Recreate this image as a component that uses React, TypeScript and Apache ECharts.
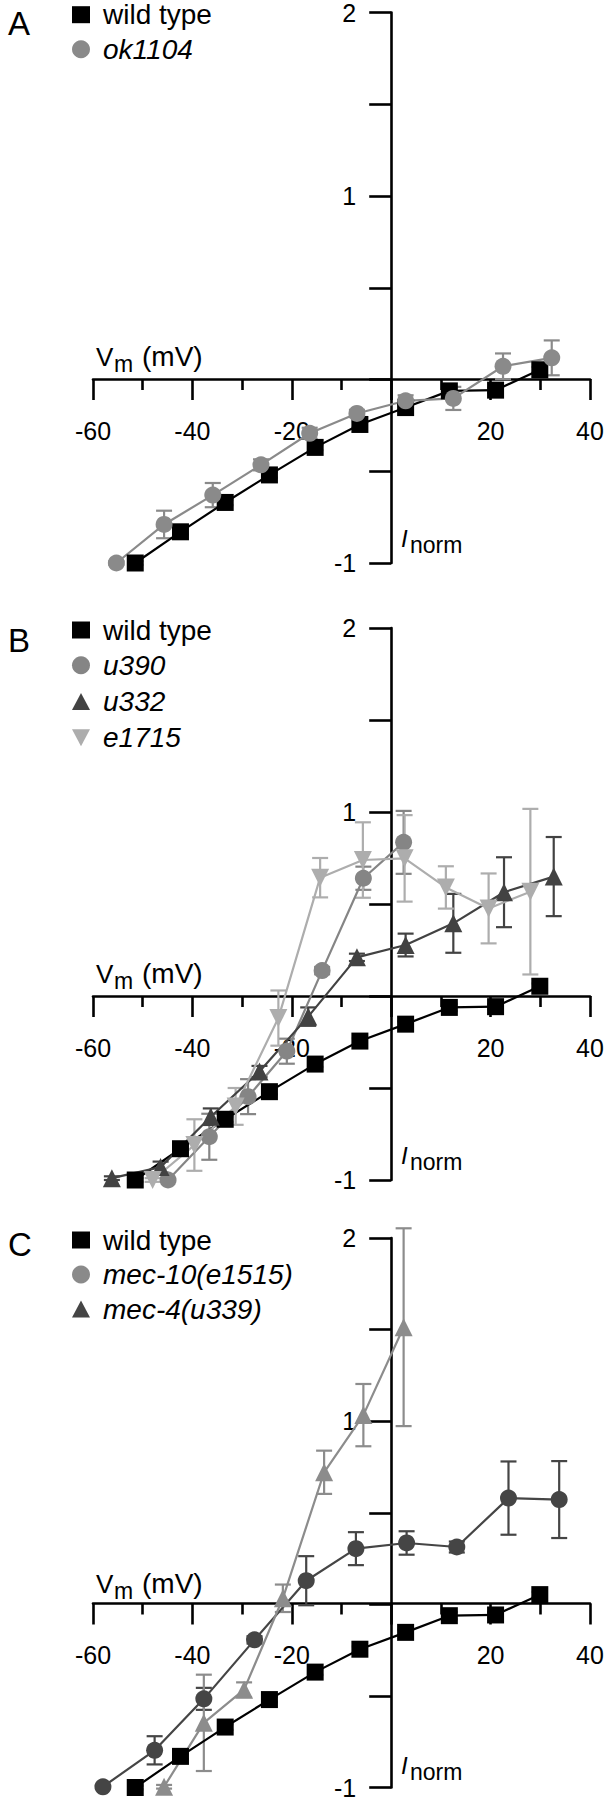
import React, { useEffect, useRef } from "react";
import * as echarts from "echarts";

// ---------- data (membrane potential mV, normalized current) ----------
const wtV = [-51.5, -42.4, -33.4, -24.5, -15.3, -6.3, 2.9, 11.7, 21.0, 29.9];
const wtI = [-1.0, -0.83, -0.67, -0.52, -0.37, -0.245, -0.153, -0.062, -0.058, 0.053];
const wtErr = [0.01, 0.015, 0.015, 0.015, 0.015, 0.015, 0.015, 0.02, 0.015, 0.015];

const okV = [-55.3, -45.7, -35.9, -26.2, -16.4, -6.9, 2.9, 12.5, 22.5, 32.3];
const okI = [-1.0, -0.79, -0.63, -0.465, -0.293, -0.185, -0.116, -0.103, 0.072, 0.118];
const okErr = [0.01, 0.075, 0.066, 0.03, 0.03, 0.02, 0.03, 0.063, 0.07, 0.095];

const u390V = [-44.9, -36.6, -28.8, -21.0, -13.9, -5.6, 2.5];
const u390I = [-1.0, -0.765, -0.547, -0.3, 0.138, 0.64, 0.835];
const u390Err = [0.01, 0.125, 0.095, 0.068, 0.02, 0.063, 0.171];

const u332V = [-56.2, -46.4, -36.3, -26.5, -16.7, -6.9, 2.9, 12.5, 22.7, 32.7];
const u332I = [-0.99, -0.93, -0.656, -0.41, -0.112, 0.21, 0.277, 0.395, 0.564, 0.649];
const u332Err = [0.01, 0.03, 0.045, 0.03, 0.05, 0.02, 0.062, 0.16, 0.19, 0.215];

const e1715V = [-48.0, -39.6, -31.3, -22.7, -14.3, -5.7, 2.7, 11.0, 19.6, 28.0];
const e1715I = [-1.0, -0.81, -0.6, -0.12, 0.643, 0.739, 0.748, 0.59, 0.476, 0.567];
const e1715Err = [0.01, 0.14, 0.1, 0.15, 0.107, 0.205, 0.235, 0.115, 0.19, 0.45];

const mec10V = [-58.0, -47.6, -37.7, -27.5, -17.1, -7.1, 3.1, 13.2, 23.6, 33.8];
const mec10I = [-0.996, -0.797, -0.516, -0.194, 0.129, 0.304, 0.335, 0.313, 0.58, 0.572];
const mec10Err = [0.01, 0.077, 0.06, 0.02, 0.134, 0.09, 0.064, 0.03, 0.2, 0.21];

const mec4V = [-45.7, -37.7, -29.6, -21.8, -13.5, -5.6, 2.5];
const mec4I = [-0.996, -0.647, -0.466, 0.033, 0.721, 1.033, 1.513];
const mec4Err = [0.01, 0.263, 0.04, 0.075, 0.118, 0.17, 0.54];

const xTickLabels = ["-60", "-40", "-20", "20", "40"];
const yTickLabels = ["2", "1", "-1"];

const FONT = "'Liberation Sans', Arial, Helvetica, sans-serif";
const BLACK = "#000000";

type Entry = {
  name: string;
  V: number[];
  I: number[];
  E: number[];
  color: string;
  symbol: string;
  rotate?: number;
  legendColor: string;
  italic: boolean;
};

const panels: {
  letter: string;
  top: number;
  letterY: number;
  legendY: number[];
  entries: Entry[];
}[] = [
  {
    letter: "A",
    top: 11,
    letterY: 24,
    legendY: [14.7, 49.2],
    entries: [
      { name: "wild type", V: wtV, I: wtI, E: wtErr, color: BLACK, symbol: "rect", legendColor: BLACK, italic: false },
      { name: "ok1104", V: okV, I: okI, E: okErr, color: "#8a8a8a", symbol: "circle", legendColor: "#8a8a8a", italic: true },
    ],
  },
  {
    letter: "B",
    top: 628,
    letterY: 640.8,
    legendY: [630, 665.3, 701.5, 737.3],
    entries: [
      { name: "wild type", V: wtV, I: wtI, E: wtErr, color: BLACK, symbol: "rect", legendColor: BLACK, italic: false },
      { name: "u390", V: u390V, I: u390I, E: u390Err, color: "#858585", symbol: "circle", legendColor: "#858585", italic: true },
      { name: "u332", V: u332V, I: u332I, E: u332Err, color: "#424242", symbol: "triangle", legendColor: "#424242", italic: true },
      { name: "e1715", V: e1715V, I: e1715I, E: e1715Err, color: "#adadad", symbol: "triangle", rotate: 180, legendColor: "#adadad", italic: true },
    ],
  },
  {
    letter: "C",
    top: 1238,
    letterY: 1245,
    legendY: [1240, 1274.5, 1309],
    entries: [
      { name: "wild type", V: wtV, I: wtI, E: wtErr, color: BLACK, symbol: "rect", legendColor: BLACK, italic: false },
      { name: "mec-10(e1515)", V: mec10V, I: mec10I, E: mec10Err, color: "#454545", symbol: "circle", legendColor: "#8a8a8a", italic: true },
      { name: "mec-4(u339)", V: mec4V, I: mec4I, E: mec4Err, color: "#8c8c8c", symbol: "triangle", legendColor: "#454545", italic: true },
    ],
  },
];

const WIDTH = 609;
const GRID_LEFT = 93;
const GRID_RIGHT = 19;
const GRID_H = 552;
const X_MIN = -60;
const X_MAX = 40;
const Y_MIN = -1;
const Y_MAX = 2;
// offsets that put each axis on the other's zero
const Y_AXIS_OFFSET = -((0 - X_MIN) / (X_MAX - X_MIN)) * (WIDTH - GRID_LEFT - GRID_RIGHT);
const X_AXIS_OFFSET = -((0 - Y_MIN) / (Y_MAX - Y_MIN)) * GRID_H;

function errSeries(idx: number, e: Entry) {
  return {
    type: "custom",
    xAxisIndex: idx,
    yAxisIndex: idx,
    clip: false,
    silent: true,
    z: 1,
    encode: { x: 0, y: 1 },
    data: e.V.map((v, k) => [v, e.I[k], e.E[k]]),
    renderItem: (_p: any, api: any) => {
      const x = api.value(0);
      const y = api.value(1);
      const er = api.value(2);
      const t = api.coord([x, y + er]);
      const b = api.coord([x, y - er]);
      const w = 8;
      const st = { stroke: e.color, lineWidth: 2.2 };
      return {
        type: "group",
        children: [
          { type: "line", shape: { x1: t[0], y1: t[1], x2: b[0], y2: b[1] }, style: st },
          { type: "line", shape: { x1: t[0] - w, y1: t[1], x2: t[0] + w, y2: t[1] }, style: st },
          { type: "line", shape: { x1: b[0] - w, y1: b[1], x2: b[0] + w, y2: b[1] }, style: st },
        ],
      };
    },
  };
}

function lineSeries(idx: number, e: Entry) {
  return {
    type: "line",
    name: e.name,
    xAxisIndex: idx,
    yAxisIndex: idx,
    data: e.V.map((v, k) => [v, e.I[k]]),
    symbol: e.symbol,
    symbolRotate: e.rotate || 0,
    symbolSize: e.symbol === "triangle" ? 18 : 17,
    showAllSymbol: true,
    clip: false,
    z: 2,
    lineStyle: { color: e.color, width: 2.2 },
    itemStyle: { color: e.color },
  };
}

function legendMarker(e: Entry, cx: number, cy: number) {
  const fill = { fill: e.legendColor };
  if (e.symbol === "rect") {
    return { type: "rect", shape: { x: cx - 9, y: cy - 8.5, width: 18, height: 17 }, style: fill };
  }
  if (e.symbol === "circle") {
    return { type: "circle", shape: { cx, cy, r: 9 }, style: fill };
  }
  if (e.rotate === 180) {
    return {
      type: "polygon",
      shape: { points: [[cx - 9, cy - 8], [cx + 9, cy - 8], [cx, cy + 9]] },
      style: fill,
    };
  }
  return {
    type: "polygon",
    shape: { points: [[cx - 9, cy + 8.5], [cx + 9, cy + 8.5], [cx, cy - 8.5]] },
    style: fill,
  };
}

export default function App() {
  const ref = useRef<HTMLDivElement>(null);

  useEffect(() => {
    document.body.style.margin = "0";
    if (!ref.current) return;
    const chart = echarts.init(ref.current, undefined, { renderer: "svg" });

    const grid: any[] = [];
    const xAxis: any[] = [];
    const yAxis: any[] = [];
    const series: any[] = [];
    const graphic: any[] = [];
    const axisLineStyle = { color: BLACK, width: 2.6 };

    panels.forEach((p, i) => {
      grid.push({ left: GRID_LEFT, right: GRID_RIGHT, top: p.top, height: GRID_H });
      xAxis.push({
        type: "value",
        gridIndex: i,
        position: "bottom",
        offset: X_AXIS_OFFSET,
        min: X_MIN,
        max: X_MAX,
        interval: 20,
        axisLine: { show: true, onZero: false, lineStyle: axisLineStyle },
        axisTick: { show: true, length: 21, lineStyle: axisLineStyle },
        minorTick: { show: true, splitNumber: 2, length: 11, lineStyle: axisLineStyle },
        splitLine: { show: false },
        minorSplitLine: { show: false },
        axisLabel: {
          show: true,
          showMinLabel: true,
          showMaxLabel: true,
          margin: 39,
          fontSize: 25,
          fontFamily: FONT,
          color: BLACK,
          formatter: (v: number) => (xTickLabels.includes(String(v)) ? String(v) : ""),
        },
      });
      yAxis.push({
        type: "value",
        gridIndex: i,
        position: "left",
        offset: Y_AXIS_OFFSET,
        min: Y_MIN,
        max: Y_MAX,
        interval: 0.5,
        axisLine: { show: true, onZero: false, lineStyle: axisLineStyle },
        axisTick: { show: true, length: 22, lineStyle: axisLineStyle },
        splitLine: { show: false },
        axisLabel: {
          show: true,
          showMinLabel: true,
          showMaxLabel: true,
          margin: 35,
          fontSize: 25,
          fontFamily: FONT,
          color: BLACK,
          formatter: (v: number) => (yTickLabels.includes(String(v)) ? String(v) : ""),
        },
      });

      p.entries.forEach((e) => series.push(errSeries(i, e)));
      p.entries.forEach((e) => series.push(lineSeries(i, e)));

      const zeroY = p.top + (GRID_H * 2) / 3;
      const minusOneY = p.top + GRID_H;

      // panel letter
      graphic.push({
        type: "text",
        left: 8,
        top: p.letterY - 17,
        style: { text: p.letter, font: `33px ${FONT}`, fill: BLACK },
      });
      // legend
      p.entries.forEach((e, k) => {
        const cy = p.legendY[k];
        graphic.push(legendMarker(e, 81, cy));
        graphic.push({
          type: "text",
          x: 103,
          y: cy,
          style: {
            text: e.name,
            font: `${e.italic ? "italic " : ""}28px ${FONT}`,
            fill: BLACK,
            textVerticalAlign: "middle",
            textAlign: "left",
          },
        });
      });
      // Vm (mV)
      graphic.push({
        type: "text",
        x: 96,
        y: zeroY - 22.5,
        style: { text: "V", font: `26px ${FONT}`, fill: BLACK, textVerticalAlign: "middle" },
      });
      graphic.push({
        type: "text",
        x: 114,
        y: zeroY - 15,
        style: { text: "m", font: `23px ${FONT}`, fill: BLACK, textVerticalAlign: "middle" },
      });
      graphic.push({
        type: "text",
        x: 142,
        y: zeroY - 22.5,
        style: { text: "(mV)", font: `28px ${FONT}`, fill: BLACK, textVerticalAlign: "middle" },
      });
      // I norm
      graphic.push({
        type: "text",
        x: 401,
        y: minusOneY - 24.5,
        style: { text: "I", font: `italic 24px ${FONT}`, fill: BLACK, textVerticalAlign: "middle" },
      });
      graphic.push({
        type: "text",
        x: 410,
        y: minusOneY - 18,
        style: { text: "norm", font: `23px ${FONT}`, fill: BLACK, textVerticalAlign: "middle" },
      });
    });

    chart.setOption({
      animation: false,
      backgroundColor: "#ffffff",
      grid,
      xAxis,
      yAxis,
      series,
      graphic,
    });

    return () => chart.dispose();
  }, []);

  return <div ref={ref} style={{ width: WIDTH, height: 1800 }} />;
}
